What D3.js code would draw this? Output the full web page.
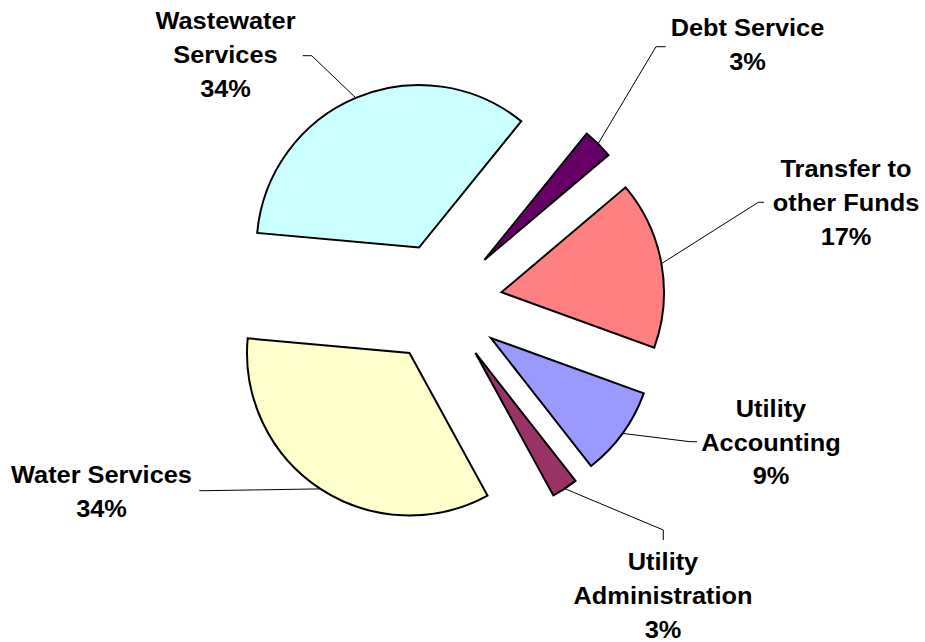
<!DOCTYPE html>
<html>
<head>
<meta charset="utf-8">
<script src="https://cdn.jsdelivr.net/npm/d3@7"></script>
<style>
  html, body { margin: 0; padding: 0; background: #fff; }
  svg { display: block; }
  .lbl { font-family: Arial, "Liberation Sans", sans-serif; font-weight: bold; font-size: 23.5px; fill: #000; }
</style>
</head>
<body>
<svg id="chart" width="925" height="642"></svg>
<script>
// Budget shares by category, drawn clockwise starting with Debt Service
const categories = ["Debt Service", "Transfer to other Funds", "Utility Accounting",
                    "Utility Administration", "Water Services", "Wastewater Services"];
const percentValues = [3.0, 16.7, 8.9, 2.6, 34.4, 34.4];
const sliceColors = ["#660066", "#FF8080", "#9999FF", "#993366", "#FFFFCC", "#CCFFFF"];
const labelLines = [["Debt Service"], ["Transfer to", "other Funds"], ["Utility", "Accounting"],
                    ["Utility", "Administration"], ["Water Services"], ["Wastewater", "Services"]];

// Label placement: leader elbow, leader end, text centre x, first baseline
const labelLayout = [
  { elbow: [656, 46.7],  end: [665.7, 46.7],  cx: 747.5, y0: 36 },
  { elbow: [758.3, 202.3], end: [764, 202.3], cx: 846,   y0: 177 },
  { elbow: [690, 441.7], end: [697, 441.7],   cx: 771,   y0: 416.7 },
  { elbow: [663.3, 530], end: [663.3, 540],   cx: 663,   y0: 570 },
  { elbow: [205, 490.7], end: [199.3, 490.7], cx: 101.5, y0: 483 },
  { elbow: [311.7, 55.7], end: [302.7, 55.7], cx: 225.5, y0: 29.3 }
];

const cx = 442.4, cy = 302.8;
const radius = 162.5;
const explode = 60;
const lineHeight = 33.8;
const textStretch = 1.08;
const start = 39 * Math.PI / 180;

const svg = d3.select("#chart");

const pie = d3.pie().sort(null).value(d => d)
  .startAngle(start).endAngle(start + 2 * Math.PI);
const arcs = pie(percentValues);

const arc = d3.arc().innerRadius(0).outerRadius(radius);
const rim = d3.arc().innerRadius(radius).outerRadius(radius);

const offset = d => {
  const m = (d.startAngle + d.endAngle) / 2;
  return [cx + explode * Math.sin(m), cy - explode * Math.cos(m)];
};

// Exploded slices
svg.append("g").selectAll("path")
  .data(arcs)
  .join("path")
  .attr("transform", d => `translate(${offset(d)})`)
  .attr("d", arc)
  .attr("fill", (d, i) => sliceColors[i])
  .attr("stroke", "#000")
  .attr("stroke-width", 2)
  .attr("stroke-linejoin", "miter");

// Leader lines from the rim midpoint of each slice
svg.append("g").selectAll("polyline")
  .data(arcs)
  .join("polyline")
  .attr("points", (d, i) => {
    const o = offset(d);
    const c = rim.centroid(d);
    const p = [o[0] + c[0], o[1] + c[1]];
    const L = labelLayout[i];
    return [p, L.elbow, L.end].map(q => q.join(",")).join(" ");
  })
  .attr("fill", "none")
  .attr("stroke", "#000")
  .attr("stroke-width", 1);

// Category labels with rounded percentage
const total = d3.sum(percentValues);
const labels = svg.append("g").selectAll("g")
  .data(arcs)
  .join("g");

labels.each(function (d, i) {
  const L = labelLayout[i];
  const lines = labelLines[i].concat([Math.round(d.value / total * 100) + "%"]);
  d3.select(this).selectAll("text")
    .data(lines)
    .join("text")
    .attr("class", "lbl")
    .attr("text-anchor", "middle")
    .attr("transform", (t, j) => `translate(${L.cx},${L.y0 + j * lineHeight}) scale(${textStretch},1)`)
    .text(t => t);
});
</script>
</body>
</html>
